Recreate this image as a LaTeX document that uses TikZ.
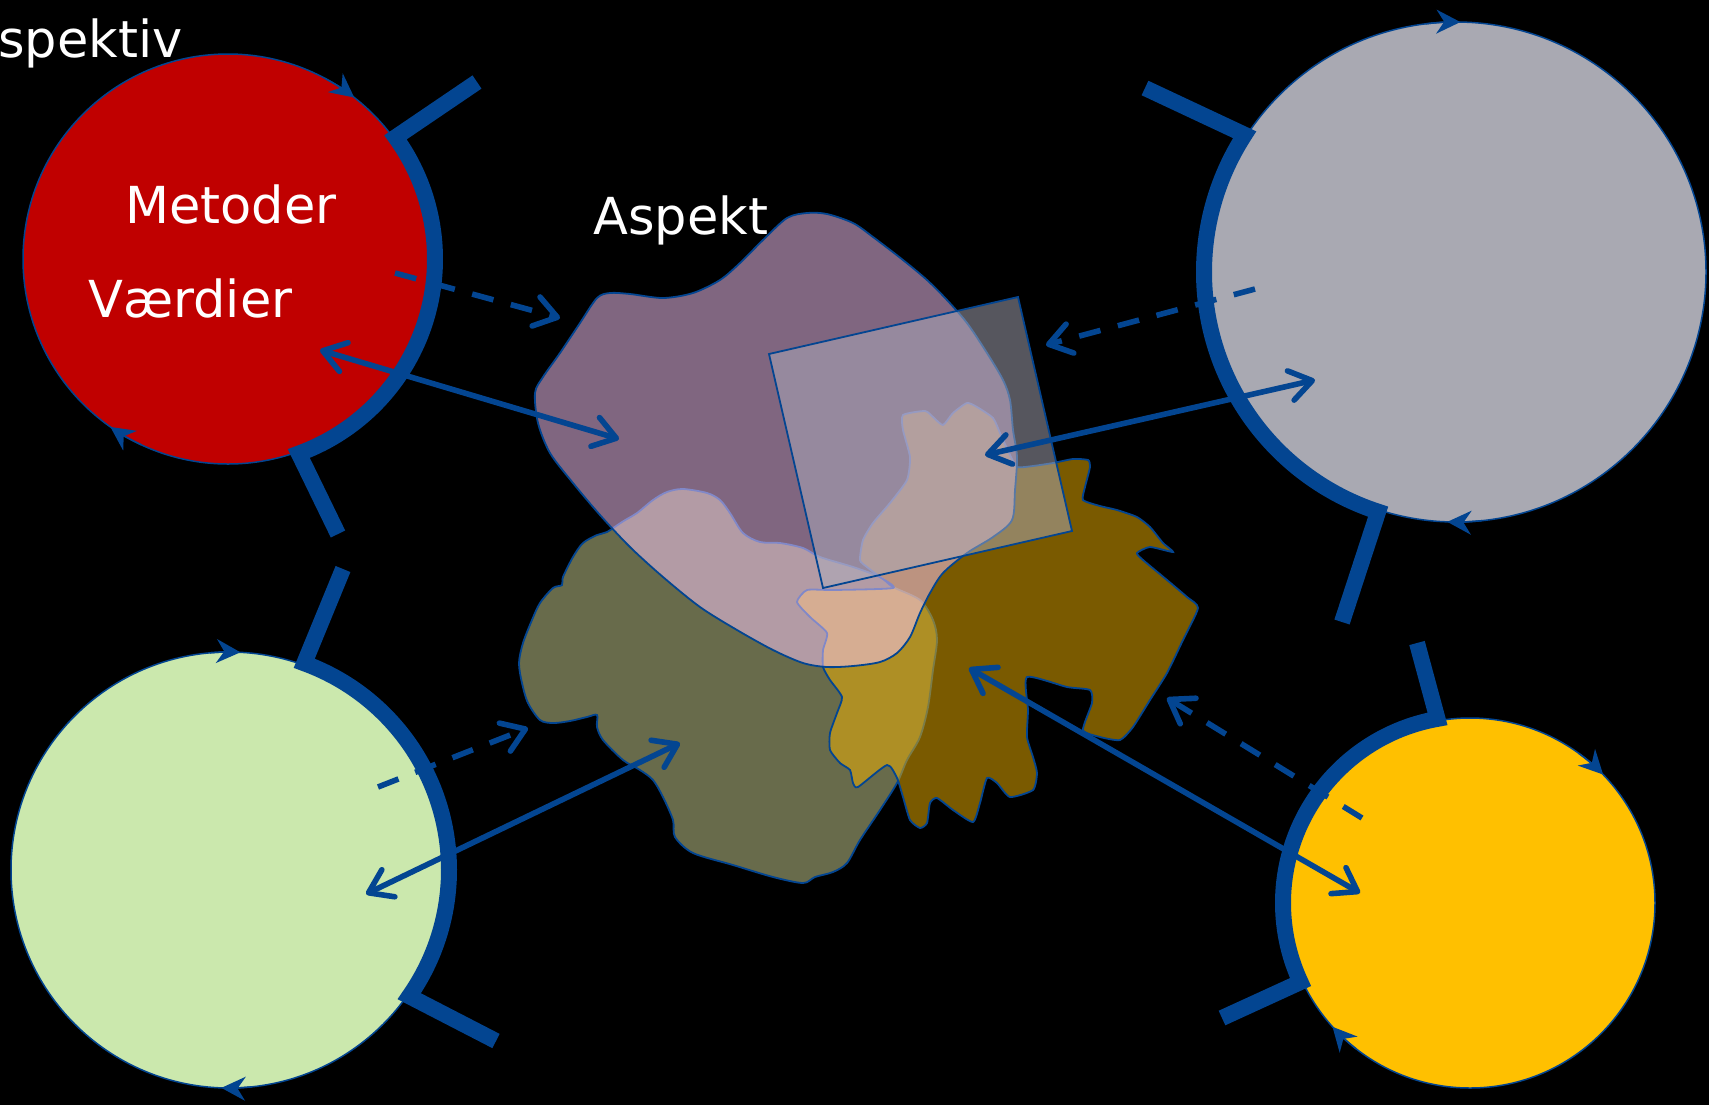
\documentclass[tikz,border=0pt]{standalone}
\usepackage{fontspec}
\setmainfont{DejaVu Sans}
\usetikzlibrary{calc}
\usetikzlibrary{arrows.meta}

\definecolor{lineblue}{RGB}{3,69,145}
\definecolor{redc}{RGB}{192,0,0}
\definecolor{greyc}{RGB}{169,169,178}
\definecolor{greenc}{RGB}{203,232,173}
\definecolor{yellowc}{RGB}{255,192,0}
\definecolor{purpleb}{RGB}{255,204,255}
\definecolor{oliveb}{RGB}{208,214,150}
\definecolor{brownb}{RGB}{244,180,0}
\definecolor{squareb}{RGB}{172,172,188}

\begin{document}
\begin{tikzpicture}[x=0.5pt,y=-0.5pt,
  >={Straight Barb[length=11pt,width=15pt,round]},
  rim/.style={draw=lineblue,line width=0.75pt},
  spokes/.style={lineblue,line width=8pt},
  spin/.style={lineblue,line width=0.75pt,-{Stealth[length=12pt,width=12pt]}},
  blob/.style={draw=lineblue,line width=0.9pt,fill opacity=0.5},
  conn/.style={lineblue,line width=2.8pt},
  dashline/.style={conn,dash pattern=on 11pt off 9pt},
  word/.style={white,font=\fontsize{25.5}{30}\selectfont,anchor=base west,inner sep=0}]
\useasboundingbox (0,0) rectangle (1709,1105);
\clip (0,0) rectangle (1709,1105);
\fill[black] (0,0) rectangle (1709,1105);

% the four circles
\coordinate (cRed) at (228,259);
\coordinate (cGrey) at (1456,272);
\coordinate (cGreen) at (229,870);
\coordinate (cYellow) at (1470,903);
\fill[redc,rim] (cRed) circle (205);
\fill[greyc,rim] (cGrey) circle (250);
\fill[greenc,rim] (cGreen) circle (218);
\fill[yellowc,rim] (cYellow) circle (185);

% thick brackets
\draw[spokes] (477,82) -- ($(cRed)+(-36:207)$) arc[start angle=-36,end angle=70,radius=207] -- (338,534);
\draw[spokes] (1145,88) -- ($(cGrey)+(213:252)$) arc[start angle=213,end angle=108,radius=252] -- (1342,622);
\draw[spokes] (343,569) -- ($(cGreen)+(-70:220)$) arc[start angle=-70,end angle=35,radius=220] -- (496,1041);
\draw[spokes] (1417,643) -- ($(cYellow)+(260:187)$) arc[start angle=260,end angle=155,radius=187] -- (1222,1018);

% turning direction
\draw[spin] ($(cRed)+(-62:205)$) arc[start angle=-62,end angle=-52,radius=205];
\draw[spin] ($(cRed)+(115:205)$) arc[start angle=115,end angle=125,radius=205];
\draw[spin] ($(cGrey)+(-97:250)$) arc[start angle=-97,end angle=-89,radius=250];
\draw[spin] ($(cGrey)+(84:250)$) arc[start angle=84,end angle=92,radius=250];
\draw[spin] ($(cGreen)+(-95:218)$) arc[start angle=-95,end angle=-87,radius=218];
\draw[spin] ($(cGreen)+(84:218)$) arc[start angle=84,end angle=92,radius=218];
\draw[spin] ($(cYellow)+(-54:185)$) arc[start angle=-54,end angle=-44,radius=185];
\draw[spin] ($(cYellow)+(128:185)$) arc[start angle=128,end angle=138,radius=185];

% aspect blobs
\draw[blob,fill=oliveb] plot[smooth cycle,tension=0.5] coordinates {
  (622,522) (637,513) (653,500) (667,492) (683,489) (707,493) (720,500) (730,513)
  (743,533) (760,542) (780,543) (803,548) (820,557) (853,567) (880,577) (893,587)
  (920,600) (933,620) (937,640) (933,670) (928,707) (920,737) (907,760) (897,783)
  (880,810) (860,840) (847,863) (833,872) (815,877) (803,883) (773,877) (733,865)
  (693,853) (675,837) (673,820) (663,797) (653,780) (640,770) (623,760) (603,740)
  (597,727) (597,715) (587,717) (570,721) (553,723) (540,720) (528,703) (522,683)
  (519,663) (523,643) (532,620) (540,603) (553,588) (562,585) (563,577) (573,557)
  (583,543) (597,535) (607,532)};
\draw[blob,fill=brownb] plot[smooth cycle,tension=0.35] coordinates {
  (903,415) (925,411) (933,417) (943,425) (953,413) (967,403) (977,407) (993,418)
  (1000,433) (1010,455) (1017,467) (1033,466) (1053,463) (1073,459) (1088,460)
  (1090,467) (1085,487) (1083,500) (1100,506) (1117,510) (1137,517) (1150,527)
  (1163,543) (1173,552) (1150,547) (1137,553) (1143,560) (1167,580) (1187,597)
  (1198,608) (1183,640) (1167,673) (1150,700) (1133,727) (1120,740) (1100,737)
  (1083,730) (1092,703) (1090,690) (1067,687) (1027,677) (1028,710) (1027,737)
  (1033,757) (1037,773) (1033,790) (1010,797) (997,783) (987,778) (980,803)
  (973,822) (953,810) (937,798) (930,803) (927,823) (920,828) (910,820) (903,797)
  (897,778) (887,765) (858,787) (853,783) (850,770) (840,763) (830,750) (830,733)
  (837,713) (842,697) (830,680) (823,667) (823,650) (827,633) (810,617) (797,602)
  (807,590) (833,590) (893,588) (880,577) (867,567) (860,560) (863,540) (873,523)
  (890,503) (907,480) (910,457) (903,430)};
\draw[blob,fill=purpleb] plot[smooth cycle,tension=0.5] coordinates {
  (597,298) (610,293) (630,294) (663,298) (693,293) (720,280) (740,263) (763,240)
  (787,218) (807,213) (827,214) (853,223) (873,237) (903,260) (927,280) (947,300)
  (967,323) (987,353) (1003,380) (1010,400) (1013,430) (1017,457) (1015,490)
  (1012,520) (993,537) (967,553) (943,573) (930,593) (920,613) (910,637) (897,653)
  (880,662) (853,666) (827,667) (803,663) (773,650) (737,630) (700,607) (663,577)
  (630,547) (600,515) (573,483) (550,453) (538,423) (535,393) (543,377) (560,353)
  (580,323)};
\draw[blob,fill=squareb] (769,354) -- (1018,297) -- (1072,531) -- (823,588) -- cycle;

% connectors
\coordinate (redTip) at (320,350);   \coordinate (aspRed) at (619,439);
\coordinate (redDash) at (395,273);  \coordinate (aspRedD) at (560,318);
\coordinate (greyTip) at (1315,380); \coordinate (aspGrey) at (985,455);
\coordinate (greyDash) at (1255,289); \coordinate (aspGreyD) at (1046,345);
\coordinate (greenTip) at (366,894); \coordinate (aspGreen) at (680,743);
\coordinate (greenDash) at (378,787); \coordinate (aspGreenD) at (528,728);
\coordinate (yellowTip) at (1360,893); \coordinate (aspYellow) at (969,668);
\coordinate (yellowDash) at (1362,818); \coordinate (aspYellowD) at (1167,698);
\draw[conn,<->] (redTip) -- (aspRed);
\draw[dashline,->] (redDash) -- (aspRedD);
\draw[conn,<->] (greyTip) -- (aspGrey);
\draw[dashline,->] (greyDash) -- (aspGreyD);
\draw[conn,<->] (greenTip) -- (aspGreen);
\draw[dashline,->] (greenDash) -- (aspGreenD);
\draw[conn,<->] (yellowTip) -- (aspYellow);
\draw[dashline,->] (yellowDash) -- (aspYellowD);

% texts
\node[word] (persp) at (-2,57) {spektiv};
\node[word] (metoder) at (125,223) {Metoder};
\node[word] (vaerdier) at (88,317) {Værdier};
\node[word] (aspekt) at (593,234) {Aspekt};
\end{tikzpicture}
\end{document}
